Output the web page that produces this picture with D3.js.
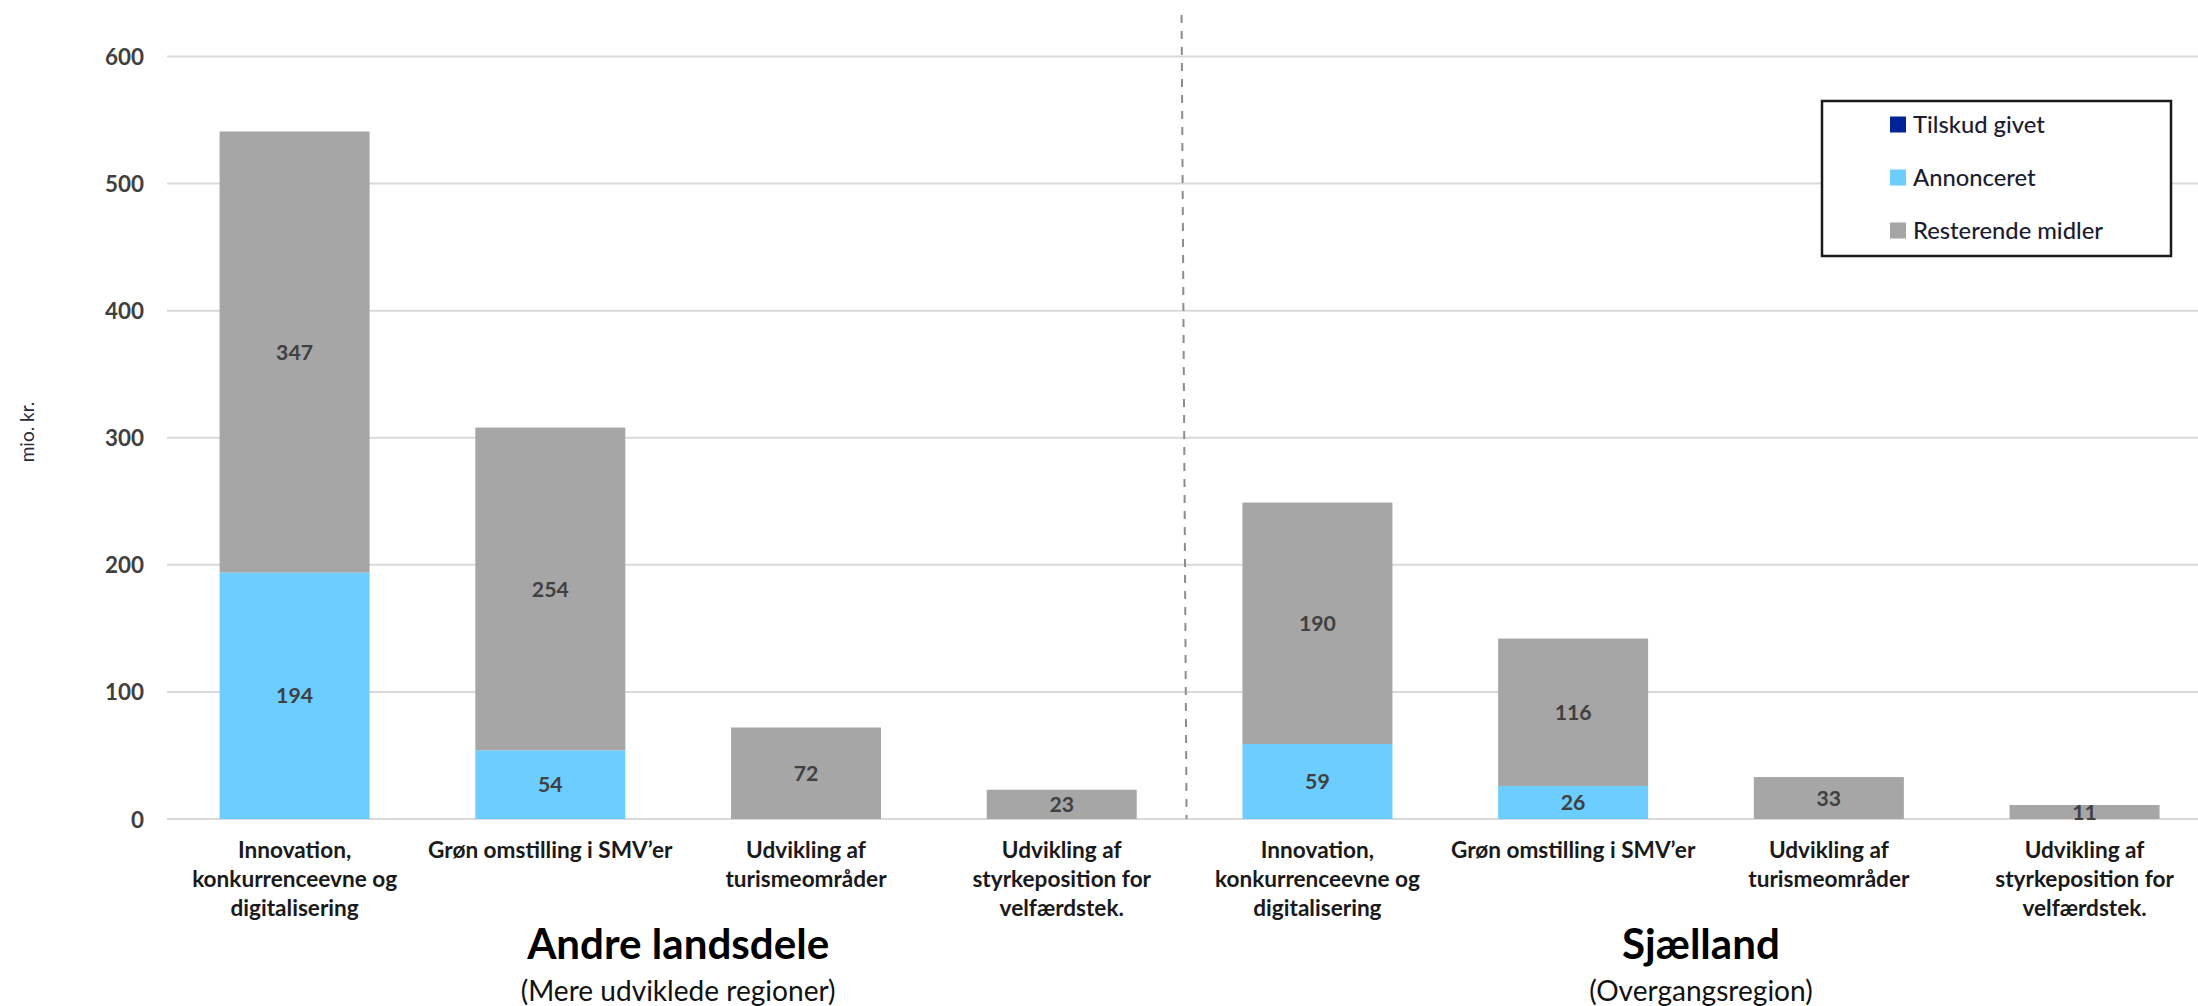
<!DOCTYPE html>
<html>
<head>
<meta charset="utf-8">
<script src="https://cdn.jsdelivr.net/npm/d3@7"></script>
<style>
  html, body { margin: 0; padding: 0; background: #fff; }
  svg { display: block; font-family: Lato, "Open Sans", sans-serif; }
</style>
</head>
<body>
<svg id="chart" width="2198" height="1006"></svg>
<script>
// ---- data ----
const groups = ["Andre landsdele", "Sjælland"];
const groupSubtitles = ["(Mere udviklede regioner)", "(Overgangsregion)"];
const categoryLabels = [
  ["Innovation,", "konkurrenceevne og", "digitalisering"],
  ["Grøn omstilling i SMV’er"],
  ["Udvikling af", "turismeområder"],
  ["Udvikling af", "styrkeposition for", "velfærdstek."]
];
const seriesNames = ["Tilskud givet", "Annonceret", "Resterende midler"];
const tilskudGivet = [0, 0, 0, 0, 0, 0, 0, 0];
const annonceret   = [194, 54, 0, 0, 59, 26, 0, 0];
const resterende   = [347, 254, 72, 23, 190, 116, 33, 11];
const yTicks = [0, 100, 200, 300, 400, 500, 600];
const yLabel = "mio. kr.";

// ---- build table ----
const barKeys = [];
groups.forEach((g, gi) => categoryLabels.forEach((c, ci) => barKeys.push(gi + "-" + ci)));
const table = barKeys.map((k, i) => ({
  key: k,
  group: +k.split("-")[0],
  cat: +k.split("-")[1],
  "Tilskud givet": tilskudGivet[i],
  "Annonceret": annonceret[i],
  "Resterende midler": resterende[i]
}));
const colors = { "Tilskud givet": "#002395", "Annonceret": "#6ccdff", "Resterende midler": "#a6a6a6" };

const svg = d3.select("#chart");

// font size that makes a sample string reach a given rendered width
function fitSize(sample, weight, width) {
  const t = svg.append("text").attr("font-size", 100).attr("font-weight", weight).text(sample);
  const w = t.node().getComputedTextLength();
  t.remove();
  return 100 * width / w;
}
const fsCat = fitSize("konkurrenceevne og", 700, 205);
const fsTitle = fitSize("Andre landsdele", 700, 302);
const fsSub = fitSize("(Mere udviklede regioner)", 400, 315);
const fsLegend = fitSize("Resterende midler", 500, 190);
const fsTick = fitSize("200", 700, 39);
const fsVal = fitSize("194", 700, 37);

const x = d3.scaleBand().domain(barKeys).range([166.75, 2212.4]).paddingInner(0.4134).paddingOuter(0.2067);
const y = d3.scaleLinear().domain([0, 600]).range([819, 56.5]);

// gridlines
svg.append("g").selectAll("line").data(yTicks).join("line")
  .attr("x1", 167).attr("x2", 2198)
  .attr("y1", d => y(d)).attr("y2", d => y(d))
  .attr("stroke", "#d9d9d9").attr("stroke-width", 2);

// y axis labels
const yAxis = svg.append("g").attr("transform", "translate(144,0)")
  .call(d3.axisLeft(y).tickValues(yTicks).tickSize(0).tickPadding(0));
yAxis.select(".domain").remove();
yAxis.selectAll("text")
  .attr("font-family", "Lato, sans-serif").attr("font-size", fsTick).attr("font-weight", 700)
  .attr("fill", "#404040").attr("dy", "0.36em");

svg.append("text")
  .attr("transform", "translate(34,432) rotate(-90)")
  .attr("text-anchor", "middle")
  .attr("font-size", 19).attr("fill", "#2a2a3a")
  .text(yLabel);

// separator
const boundary = x(barKeys[4]) - (x.step() - x.bandwidth()) / 2;
svg.append("line")
  .attr("x1", boundary - 8).attr("x2", boundary - 3)
  .attr("y1", 15).attr("y2", y(0))
  .attr("stroke", "#8c8c8c").attr("stroke-width", 2)
  .attr("stroke-dasharray", "8,8");

// stacked bars
const stack = d3.stack().keys(seriesNames)(table);
const layers = svg.append("g").selectAll("g").data(stack).join("g")
  .attr("fill", d => colors[d.key]);
layers.selectAll("rect").data(d => d).join("rect")
  .attr("x", d => x(d.data.key))
  .attr("width", x.bandwidth())
  .attr("y", d => y(d[1]))
  .attr("height", d => y(d[0]) - y(d[1]));

// value labels
stack.forEach(layer => {
  svg.append("g").selectAll("text").data(layer.filter(d => d[1] - d[0] > 0)).join("text")
    .attr("x", d => x(d.data.key) + x.bandwidth() / 2)
    .attr("y", d => y((d[0] + d[1]) / 2))
    .attr("dy", "0.36em")
    .attr("text-anchor", "middle")
    .attr("font-size", fsVal).attr("font-weight", 700).attr("fill", "#404040")
    .text(d => d[1] - d[0]);
});

// category labels
const catG = svg.append("g").selectAll("text").data(table).join("text")
  .attr("text-anchor", "middle")
  .attr("font-size", fsCat).attr("font-weight", 700).attr("fill", "#1a1a1a");
catG.each(function(d) {
  const t = d3.select(this);
  const cx = x(d.key) + x.bandwidth() / 2;
  categoryLabels[d.cat].forEach((line, li) => {
    t.append("tspan").attr("x", cx).attr("y", 858 + li * 29).text(line);
  });
});

// group titles
groups.forEach((g, gi) => {
  const first = x(barKeys[gi * 4]);
  const last = x(barKeys[gi * 4 + 3]) + x.bandwidth();
  const cx = (first + last) / 2;
  svg.append("text").attr("x", cx).attr("y", 959).attr("text-anchor", "middle")
    .attr("font-size", fsTitle).attr("font-weight", 700).attr("fill", "#000").text(g);
  svg.append("text").attr("x", cx).attr("y", 1001).attr("text-anchor", "middle")
    .attr("font-size", fsSub).attr("fill", "#111").text(groupSubtitles[gi]);
});

// legend
const lg = svg.append("g");
lg.append("rect").attr("x", 1822).attr("y", 101).attr("width", 349).attr("height", 155)
  .attr("fill", "#fff").attr("stroke", "#1a1a1a").attr("stroke-width", 2.5);
seriesNames.forEach((s, i) => {
  const cy = 124.5 + i * 53;
  lg.append("rect").attr("x", 1890).attr("y", cy - 8).attr("width", 16).attr("height", 16)
    .attr("fill", colors[s]);
  lg.append("text").attr("x", 1913).attr("y", cy).attr("dy", "0.36em")
    .attr("font-size", fsLegend).attr("font-weight", 500).attr("fill", "#1c1c30").text(s);
});
</script>
</body>
</html>
